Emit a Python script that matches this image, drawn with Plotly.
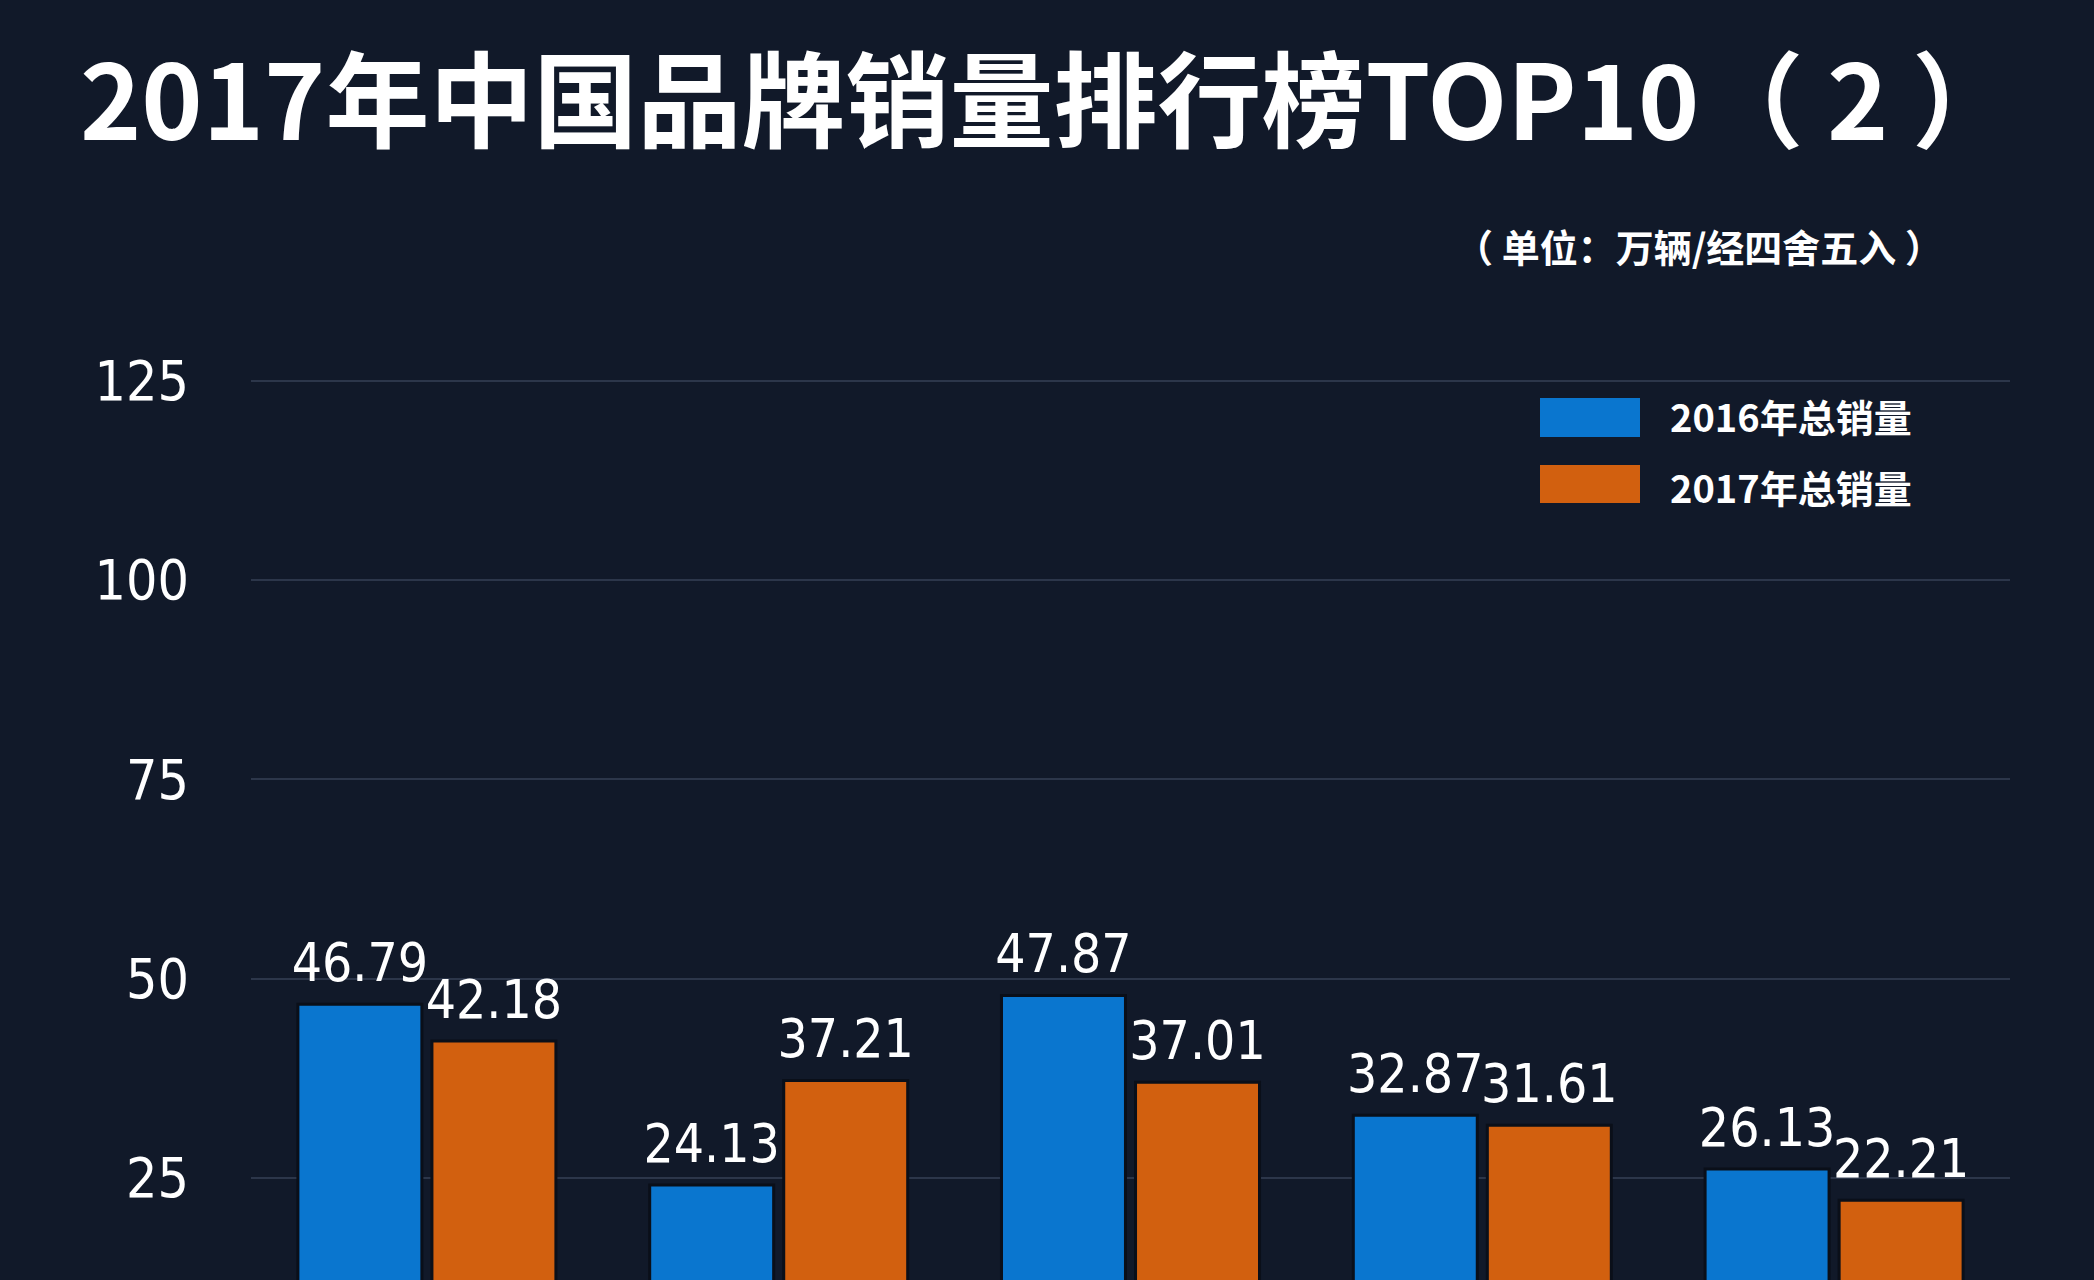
import plotly.graph_objects as go

# ---- data ----
categories = ["品牌1", "品牌2", "品牌3", "品牌4", "品牌5"]
series_names = ["2016年总销量", "2017年总销量"]
sales_2016 = [46.79, 24.13, 47.87, 32.87, 26.13]
sales_2017 = [42.18, 37.21, 37.01, 31.61, 22.21]
y_ticks = [25, 50, 75, 100, 125]

title_text = "2017年中国品牌销量排行榜TOP10（ 2 ）"
unit_text = "（ 单位：万辆/经四舍五入 ）"

# ---- style ----
W, H = 2094, 1280
BG = "#111929"
BLUE = "#0a76cf"
ORANGE = "#d2600f"
CJK = "Noto Sans CJK SC"
NUM = "DejaVu Sans Condensed, DejaVu Sans"
L, R, T, B = 251, 84, 320, 0

fig = go.Figure()
colors = [BLUE, ORANGE]
series = [sales_2016, sales_2017]
for i, (name, vals) in enumerate(zip(series_names, series)):
    fig.add_trace(go.Bar(
        x=categories, y=vals, name=name,
        marker=dict(color=colors[i], line=dict(color="#0a0f19", width=3)),
        offsetgroup=str(i), alignmentgroup="g",
        showlegend=False, hoverinfo="skip",
    ))
for i, (name, vals) in enumerate(zip(series_names, series)):
    fig.add_trace(go.Scatter(
        x=categories, y=vals, mode="markers+text",
        text=[f"{v:.2f}" for v in vals], textposition="top center",
        textfont=dict(family=NUM, size=53, color="white"),
        marker=dict(size=14.4, opacity=0),
        offsetgroup=str(i), alignmentgroup="g",
        showlegend=False, hoverinfo="skip", cliponaxis=False,
    ))

# custom legend (large swatches)
pw = W - L - R
ph = H - T - B
def px_x(v):
    return (v - L) / pw
def px_y(v):
    return (H - B - v) / ph

legend_rows = [(398, 437, 415), (465, 503, 486)]
for (y0, y1, yc), name, col in zip(legend_rows, series_names, colors):
    fig.add_shape(type="rect", xref="paper", yref="paper",
                  x0=px_x(1540), x1=px_x(1640), y0=px_y(y1), y1=px_y(y0),
                  fillcolor=col, line=dict(width=0))
    fig.add_annotation(xref="paper", yref="paper", x=px_x(1668), y=px_y(yc),
                       xanchor="left", yanchor="middle", showarrow=False,
                       text=name, font=dict(family=CJK, size=38, color="white", weight="bold"))

fig.add_annotation(xref="paper", yref="paper", x=px_x(1945), y=px_y(246),
                   xanchor="right", yanchor="middle", showarrow=False,
                   text=unit_text, font=dict(family=CJK, size=38, color="white", weight="bold"))

fig.update_layout(
    width=W, height=H,
    margin=dict(l=L, r=R, t=T, b=B, pad=0),
    paper_bgcolor=BG, plot_bgcolor=BG,
    barmode="group", bargap=0.238, bargroupgap=0.075,
    scattermode="group",
    title=dict(text=title_text, xref="container", yref="container",
               x=80 / W, xanchor="left", y=1 - 104 / H, yanchor="middle",
               font=dict(family=CJK, size=104, color="white", weight="bold")),
    xaxis=dict(showticklabels=False, showgrid=False, zeroline=False, showline=False),
    yaxis=dict(range=[12.2, 132.6], tickvals=y_ticks, ticktext=[str(v) for v in y_ticks],
               showgrid=True, gridcolor="rgba(140,160,190,0.22)", gridwidth=2,
               zeroline=False, showline=False, ticks="",
               ticklabelstandoff=61,
               tickfont=dict(family=NUM, size=55, color="white")),
    showlegend=False,
)

fig.write_html("out.html")
